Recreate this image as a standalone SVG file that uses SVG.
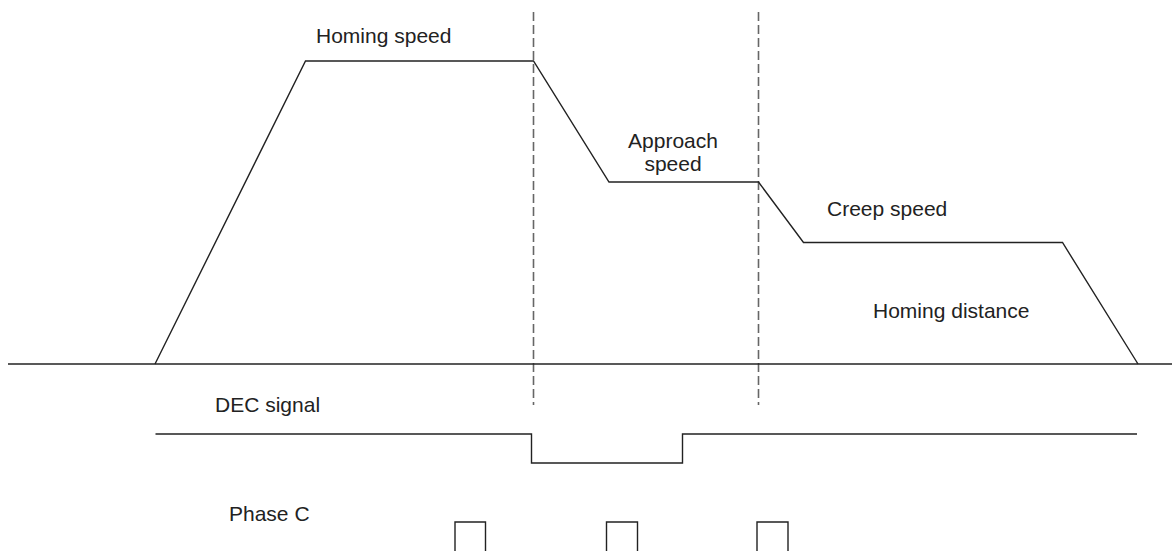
<svg xmlns="http://www.w3.org/2000/svg" width="1172" height="551" viewBox="0 0 1172 551">
  <style>
    .trace { fill: none; stroke: #222; stroke-width: 1.4; stroke-linejoin: miter; }
    .marker { fill: none; stroke: #666; stroke-width: 1.6; stroke-dasharray: 9 4; }
    .label { font-family: "Liberation Sans", Arial, sans-serif; font-size: 21px; fill: #222; }
  </style>
  <rect width="1172" height="551" fill="#fff"/>

  <!-- event markers -->
  <g id="markers">
    <line class="marker" x1="533.5" y1="12" x2="533.5" y2="405"/>
    <line class="marker" x1="758.5" y1="12" x2="758.5" y2="405"/>
  </g>

  <!-- axis and speed profile -->
  <g id="connectors">
    <line class="trace" x1="8" y1="364" x2="1172" y2="364"/>
    <polyline id="speed-profile" class="trace" points="155,364 305.5,61 533.5,61 609,182 758.5,182 803.5,242.5 1062.5,242.5 1138,364"/>
    <polyline id="dec-signal" class="trace" points="155.5,434 531.5,434 531.5,463 682.5,463 682.5,434 1137,434"/>
    <g id="phase-c">
      <polyline class="trace" points="455,551 455,522 485.5,522 485.5,551"/>
      <polyline class="trace" points="606.5,551 606.5,522 637.5,522 637.5,551"/>
      <polyline class="trace" points="757,551 757,522 788,522 788,551"/>
    </g>
  </g>

  <g id="labels">
    <text class="label" x="316" y="43">Homing speed</text>
    <text class="label" x="673" y="148" text-anchor="middle">Approach</text>
    <text class="label" x="673" y="171" text-anchor="middle">speed</text>
    <text class="label" x="827" y="216">Creep speed</text>
    <text class="label" x="873" y="318">Homing distance</text>
    <text class="label" x="215" y="412">DEC signal</text>
    <text class="label" x="229" y="521">Phase C</text>
  </g>
</svg>
